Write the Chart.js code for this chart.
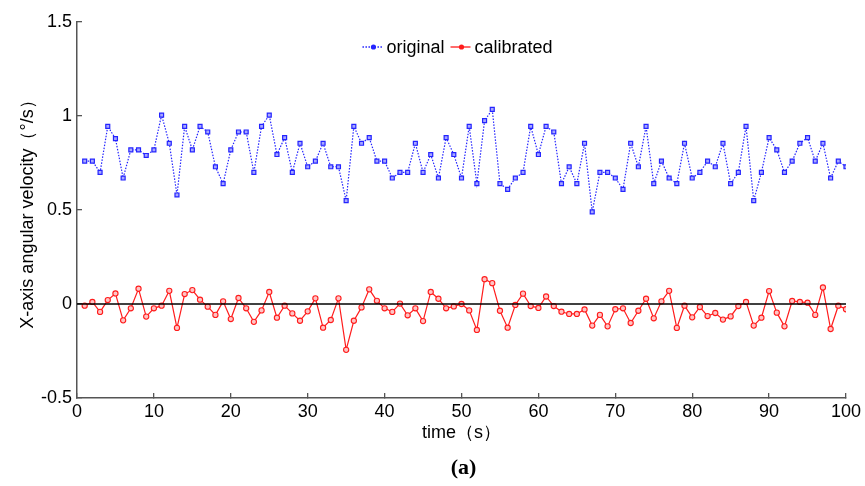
<!DOCTYPE html>
<html>
<head>
<meta charset="utf-8">
<title>X-axis angular velocity</title>
<script src="https://cdn.jsdelivr.net/npm/chart.js@4.4.0/dist/chart.umd.min.js"></script>
<style>
	html, body { margin: 0; padding: 0; background: #fff; }
	#wrap { width: 865px; height: 486px; }
</style>
</head>
<body>
<div id="wrap"><canvas id="chart" width="865" height="486"></canvas></div>
<script>
const times = [
	1, 2, 3, 4, 5, 6, 7, 8, 9, 10, 11, 12, 13, 14, 15, 16, 17, 18, 19, 20,
	21, 22, 23, 24, 25, 26, 27, 28, 29, 30, 31, 32, 33, 34, 35, 36, 37, 38, 39, 40,
	41, 42, 43, 44, 45, 46, 47, 48, 49, 50, 51, 52, 53, 54, 55, 56, 57, 58, 59, 60,
	61, 62, 63, 64, 65, 66, 67, 68, 69, 70, 71, 72, 73, 74, 75, 76, 77, 78, 79, 80,
	81, 82, 83, 84, 85, 86, 87, 88, 89, 90, 91, 92, 93, 94, 95, 96, 97, 98, 99, 100
];

const original = [
	0.76, 0.76, 0.70, 0.945, 0.88, 0.67, 0.82, 0.82, 0.79, 0.82,
	1.005, 0.855, 0.58, 0.945, 0.82, 0.945, 0.915, 0.73, 0.64, 0.82,
	0.915, 0.915, 0.70, 0.945, 1.005, 0.795, 0.885, 0.70, 0.855, 0.73,
	0.76, 0.855, 0.73, 0.73, 0.55, 0.945, 0.855, 0.885, 0.76, 0.76,
	0.67, 0.70, 0.70, 0.855, 0.70, 0.795, 0.67, 0.885, 0.795, 0.67,
	0.945, 0.64, 0.975, 1.035, 0.64, 0.61, 0.67, 0.70, 0.945, 0.795,
	0.945, 0.915, 0.64, 0.73, 0.64, 0.855, 0.49, 0.70, 0.70, 0.67,
	0.61, 0.855, 0.73, 0.945, 0.64, 0.76, 0.67, 0.64, 0.855, 0.67,
	0.70, 0.76, 0.73, 0.855, 0.64, 0.70, 0.945, 0.55, 0.70, 0.885,
	0.82, 0.70, 0.76, 0.855, 0.885, 0.76, 0.855, 0.67, 0.76, 0.73
];

const calibrated = [
	-0.009, 0.011, -0.042, 0.021, 0.056, -0.087, -0.023, 0.081, -0.067, -0.023,
	-0.009, 0.070, -0.127, 0.053, 0.074, 0.023, -0.014, -0.058, 0.014, -0.080,
	0.032, -0.023, -0.095, -0.034, 0.064, -0.073, -0.009, -0.050, -0.089, -0.039,
	0.030, -0.126, -0.085, 0.030, -0.244, -0.089, -0.018, 0.078, 0.017, -0.023,
	-0.042, 0.002, -0.060, -0.023, -0.091, 0.064, 0.028, -0.023, -0.013, 0.000,
	-0.034, -0.138, 0.132, 0.111, -0.036, -0.126, -0.005, 0.055, -0.011, -0.021,
	0.040, -0.011, -0.041, -0.053, -0.053, -0.029, -0.115, -0.058, -0.119, -0.028,
	-0.023, -0.101, -0.036, 0.028, -0.076, 0.014, 0.070, -0.127, -0.009, -0.071,
	-0.016, -0.064, -0.048, -0.083, -0.066, -0.011, 0.011, -0.115, -0.073, 0.069,
	-0.046, -0.119, 0.016, 0.011, 0.007, -0.058, 0.088, -0.133, -0.009, -0.028
];

const xTicks = [0, 10, 20, 30, 40, 50, 60, 70, 80, 90, 100];
const yTicks = [-0.5, 0, 0.5, 1, 1.5];
const zeroLine = [0, 0];
const zeroLineX = [0, 100];
const seriesNames = ['original', 'calibrated'];
const xTitle = 'time（s）';
const yTitle = 'X-axis angular velocity（°/s）';
const caption = '(a)';

const BLUE = '#2424ff';
const RED = '#ff1c1c';
const AXIS = '#555555';
const FONT = "'Liberation Sans', Arial, sans-serif";

function toPoints(xs, ys) {
	return xs.map((x, i) => ({ x: x, y: ys[i] }));
}

// draws the little line+marker legend inside the plot, and the (a) caption
const extrasPlugin = {
	id: 'extras',
	afterDraw(chart) {
		const ctx = chart.ctx;
		const area = chart.chartArea;
		const y = 47;
		ctx.save();
		ctx.font = '18px ' + FONT;
		ctx.textBaseline = 'middle';
		ctx.textAlign = 'left';

		const items = [0, 1].map((i) => {
			const ds = chart.data.datasets[i];
			return { ds: ds, text: seriesNames[i], w: ctx.measureText(seriesNames[i]).width };
		});
		const lineLen = 20;
		const gapText = 4;
		const gapItem = 6;
		let total = 0;
		items.forEach((it) => { total += lineLen + gapText + it.w; });
		total += gapItem;
		let x = (area.left + area.right) / 2 - total / 2 - 4;

		items.forEach((it) => {
			const ds = it.ds;
			ctx.strokeStyle = ds.borderColor;
			ctx.lineWidth = 1.3;
			ctx.setLineDash(ds.borderDash || []);
			ctx.beginPath();
			ctx.moveTo(x, y);
			ctx.lineTo(x + lineLen, y);
			ctx.stroke();
			ctx.setLineDash([]);
			ctx.fillStyle = ds.borderColor;
			ctx.beginPath();
			ctx.arc(x + lineLen * 0.55, y, 2.6, 0, Math.PI * 2);
			ctx.fill();
			ctx.fillStyle = '#000';
			ctx.fillText(it.text, x + lineLen + gapText, y + 1);
			x += lineLen + gapText + it.w + gapItem;
		});

		ctx.font = "bold 22px 'Liberation Serif', 'Times New Roman', serif";
		ctx.textAlign = 'center';
		ctx.fillText(caption, (area.left + area.right) / 2 + 2, 468);
		ctx.restore();
	}
};

new Chart(document.getElementById('chart'), {
	type: 'line',
	data: {
		datasets: [
			{
				label: seriesNames[0],
				data: toPoints(times, original),
				borderColor: BLUE,
				borderWidth: 1.2,
				borderDash: [1.5, 1.5],
				pointStyle: 'rect',
				pointRadius: 2.8,
				pointBackgroundColor: '#a8a8ff',
				pointBorderColor: BLUE,
				pointBorderWidth: 1.2,
				tension: 0,
				order: 2
			},
			{
				label: seriesNames[1],
				data: toPoints(times, calibrated),
				borderColor: RED,
				borderWidth: 1.2,
				pointStyle: 'circle',
				pointRadius: 2.6,
				pointBackgroundColor: '#ffc4c4',
				pointBorderColor: RED,
				pointBorderWidth: 1.1,
				tension: 0,
				order: 1
			},
			{
				label: '',
				data: toPoints(zeroLineX, zeroLine),
				borderColor: '#000',
				borderWidth: 1.6,
				pointRadius: 0,
				order: 0
			}
		]
	},
	options: {
		responsive: false,
		animation: false,
		layout: {
			padding: { top: 22, right: 19, left: 0, bottom: 0 }
		},
		plugins: {
			legend: { display: false },
			tooltip: { enabled: false }
		},
		scales: {
			x: {
				type: 'linear',
				min: 0,
				max: 100,
				afterBuildTicks: (scale) => {
					scale.ticks = xTicks.map((v) => ({ value: v }));
				},
				afterFit: (scale) => {
					scale.height = 88;
					scale.paddingLeft = 0;
					scale.paddingRight = 0;
				},
				ticks: {
					autoSkip: false,
					maxRotation: 0,
					padding: 8,
					color: '#000',
					font: { family: FONT, size: 18 }
				},
				grid: {
					drawOnChartArea: false,
					drawTicks: true,
					tickLength: -5,
					color: AXIS,
					lineWidth: 1.3
				},
				border: { display: true, color: AXIS, width: 1.5 },
				title: {
					display: true,
					text: xTitle,
					color: '#000',
					font: { family: FONT, size: 18 },
					padding: { top: 0, bottom: 42 }
				}
			},
			y: {
				type: 'linear',
				min: -0.5,
				max: 1.5,
				afterBuildTicks: (scale) => {
					scale.ticks = yTicks.map((v) => ({ value: v }));
				},
				afterFit: (scale) => {
					scale.width = 77;
					scale.paddingTop = 0;
					scale.paddingBottom = 0;
				},
				ticks: {
					padding: 10,
					color: '#000',
					font: { family: FONT, size: 18 },
					callback: (v) => String(v)
				},
				grid: {
					drawOnChartArea: false,
					drawTicks: true,
					tickLength: -5,
					color: AXIS,
					lineWidth: 1.3
				},
				border: { display: true, color: AXIS, width: 1.5 },
				title: {
					display: true,
					text: yTitle,
					color: '#000',
					font: { family: FONT, size: 18 },
					padding: { top: 17, bottom: 0 }
				}
			}
		}
	},
	plugins: [extrasPlugin]
});
</script>
</body>
</html>
